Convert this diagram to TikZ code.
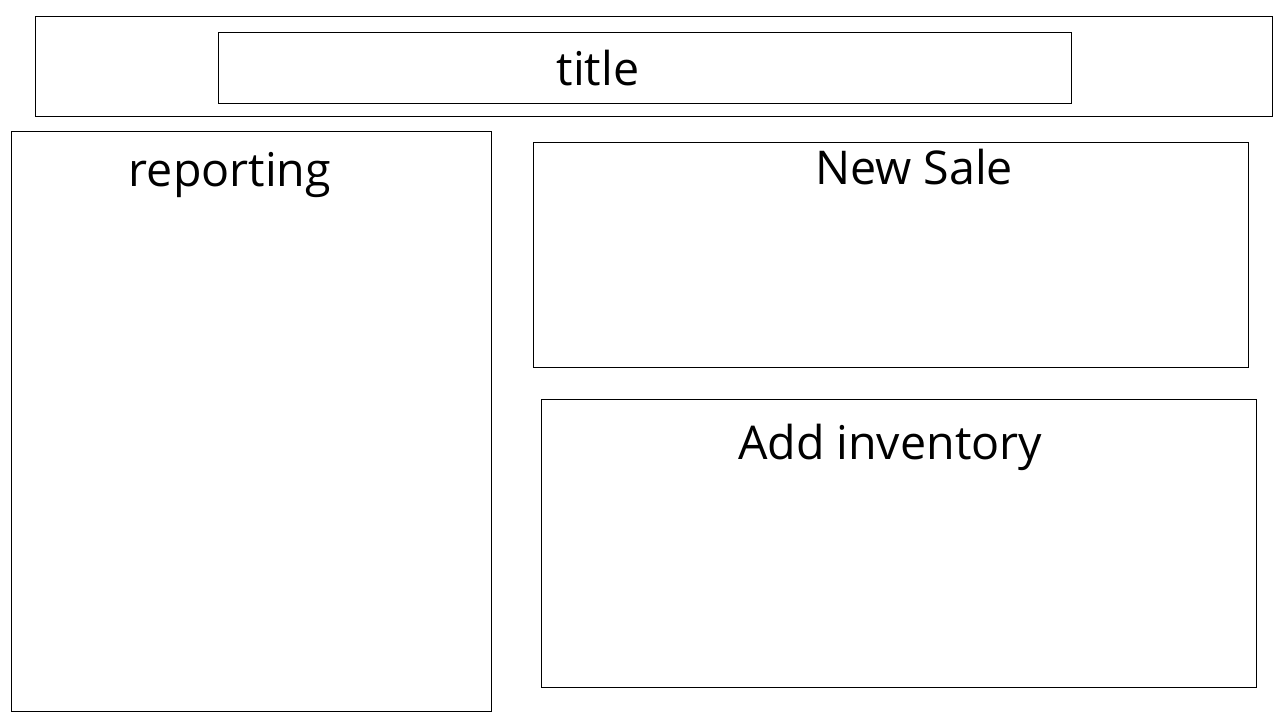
\documentclass[tikz,border=0pt]{standalone}
\usepackage{fontspec}
\setmainfont{Open Sans}
\begin{document}
\begin{tikzpicture}[
          x=0.02cm,y=-0.02cm,
          panel/.style={rectangle,draw=black,line width=0.5pt,inner sep=0pt},
          lbl/.style={anchor=base,inner sep=0pt,font=\fontsize{26.5}{32}\selectfont}
          ]
          \useasboundingbox (0,0) rectangle (1280,720);
          \node[panel,minimum width=24.76cm,minimum height=2cm]    (header) at (654,66)    {};
          \node[panel,minimum width=17.08cm,minimum height=1.42cm] (titlebox) at (645,67.5) {};
          \node[panel,minimum width=9.6cm,minimum height=11.6cm]   (reporting) at (251,421) {};
          \node[panel,minimum width=14.3cm,minimum height=4.5cm]   (newsale) at (890.5,254.5) {};
          \node[panel,minimum width=14.3cm,minimum height=5.76cm]  (addinv) at (898.5,543) {};
          \node[lbl] (titletext)  at (598,85)  {title};
          \node[lbl] (reptext)    at (230,186) {reporting};
          \node[lbl] (saletext)   at (914,184) {New Sale};
          \node[lbl] (invtext)    at (890,459) {Add inventory};
        \end{tikzpicture}
\end{document}
